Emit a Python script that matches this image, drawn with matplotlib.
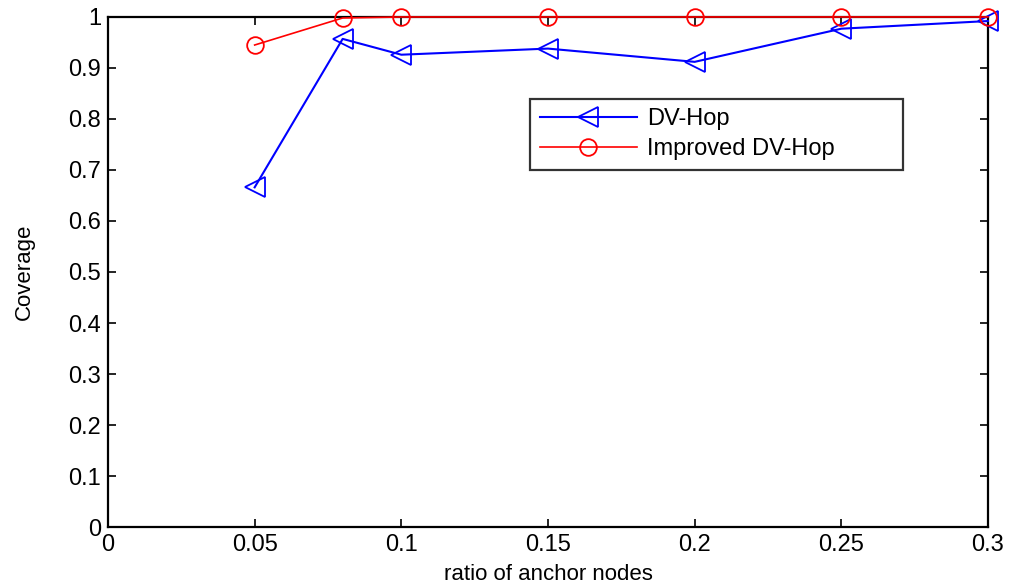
import numpy as np
import matplotlib
matplotlib.use('Agg')
import matplotlib.pyplot as plt

plt.rcParams['font.family'] = ['Liberation Sans', 'DejaVu Sans']

# ratio of anchor nodes
ratio = [0.05, 0.08, 0.10, 0.15, 0.20, 0.25, 0.30]
dv_hop = [0.666, 0.957, 0.926, 0.938, 0.912, 0.977, 0.992]
improved = [0.945, 0.998, 1.0, 1.0, 1.0, 1.0, 1.0]

xticks = [0, 0.05, 0.1, 0.15, 0.2, 0.25, 0.3]
xticklabels = ['0', '0.05', '0.1', '0.15', '0.2', '0.25', '0.3']
yticks = np.arange(0, 1.01, 0.1)
yticklabels = ['0', '0.1', '0.2', '0.3', '0.4', '0.5', '0.6', '0.7', '0.8', '0.9', '1']

fig = plt.figure(figsize=(10.13, 5.85), dpi=100)
ax = fig.add_axes([0.1066, 0.0991, 0.8687, 0.8719])

ax.plot(ratio, dv_hop, color='blue', marker='<', markersize=14,
        markerfacecolor='none', markeredgewidth=1.3, linewidth=1.5,
        label='DV-Hop', clip_on=False, zorder=3)
ax.plot(ratio, improved, color='red', marker='o', markersize=12,
        markerfacecolor='none', markeredgewidth=1.3, linewidth=1.2,
        label='Improved DV-Hop', clip_on=False, zorder=3)

ax.set_xlim(0, 0.3)
ax.set_ylim(0, 1)
ax.set_xticks(xticks)
ax.set_xticklabels(xticklabels)
ax.set_yticks(yticks)
ax.set_yticklabels(yticklabels)
ax.tick_params(direction='in', top=True, right=True, length=6, width=1.2,
               labelsize=17, pad=5)
for s in ax.spines.values():
    s.set_linewidth(1.6)

ax.set_xlabel('ratio of anchor nodes', fontsize=16, labelpad=6)
ax.set_ylabel('Coverage', fontsize=16, labelpad=24)

# legend box stretched to the same width as in the original figure
leg = ax.legend(loc='upper left', bbox_to_anchor=(0.48, 0.84, 0.423, 0.0),
                mode='expand', fontsize=17,
                frameon=True, fancybox=False, edgecolor='black',
                handlelength=4.1, borderpad=0.4, labelspacing=0.35,
                handletextpad=0.45, borderaxespad=0)
leg.get_frame().set_linewidth(1.6)

fig.savefig('out.png', dpi=100)
